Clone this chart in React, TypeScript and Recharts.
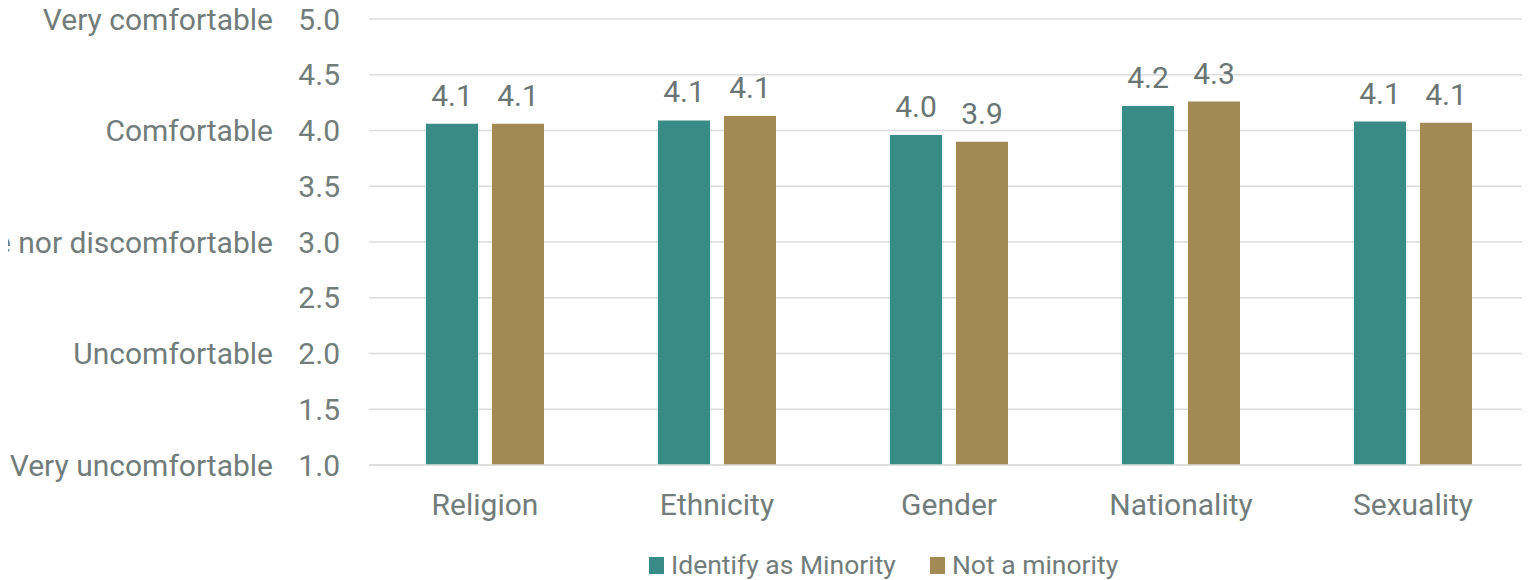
import React from 'react';
import { BarChart, Bar, XAxis, YAxis, CartesianGrid, Legend, LabelList } from 'recharts';

const categories = ['Religion', 'Ethnicity', 'Gender', 'Nationality', 'Sexuality'];
const minority = [4.06, 4.09, 3.96, 4.22, 4.08];
const notMinority = [4.06, 4.13, 3.9, 4.26, 4.07];
const yTicks = [1, 1.5, 2, 2.5, 3, 3.5, 4, 4.5, 5];
const levelValues = [1, 2, 3, 4, 5];
const levelLabels = ['Very uncomfortable', 'Uncomfortable', 'Neither comfortable nor discomfortable', 'Comfortable', 'Very comfortable'];
const seriesNames = ['Identify as Minority', 'Not a minority'];
const seriesColors = ['#388B87', '#A38A55'];

const data = categories.map((c, i) => ({ category: c, minority: minority[i], notMinority: notMinority[i] }));

const FONT = 'Roboto, sans-serif';
const TEXT = '#717C7B';
const FS = 30;

const YTick = (props: any) => {
  const { x, y, payload } = props;
  const v = payload.value as number;
  const idx = levelValues.indexOf(v);
  return (
    <g>
      <text x={x} y={y} dy="0.35em" textAnchor="end" fontFamily={FONT} fontSize={FS} fill={TEXT}>
        {v.toFixed(1)}
      </text>
      {idx >= 0 && (
        <text x={x - 67} y={y} dy="0.35em" textAnchor="end" fontFamily={FONT} fontSize={FS} fill={TEXT}>
          {levelLabels[idx]}
        </text>
      )}
    </g>
  );
};

const XTick = (props: any) => {
  const { x, y, payload } = props;
  return (
    <text x={x} y={y} dy="0.71em" textAnchor="middle" fontFamily={FONT} fontSize={FS} fill={TEXT}>
      {payload.value}
    </text>
  );
};

const LegendContent = () => (
  <div style={{ height: 55, position: 'relative', fontFamily: FONT, fontSize: 26.5, color: TEXT }}>
    <div style={{ position: 'absolute', left: 641, top: 27, display: 'flex', alignItems: 'center', lineHeight: 1 }}>
      {seriesNames.map((n, i) => (
        <div key={n} style={{ display: 'flex', alignItems: 'center', marginRight: 34 }}>
          <div style={{ width: 15, height: 17, background: seriesColors[i], marginRight: 7 }} />
          <span>{n}</span>
        </div>
      ))}
    </div>
  </div>
);

const fmt = (v: any) => Number(v).toFixed(1);

export default function App() {
  return (
    <BarChart
      width={1522}
      height={572}
      data={data}
      margin={{ top: 11, right: 1, bottom: 0, left: 0 }}
      barGap={14}
      barSize={52}
    >
      <CartesianGrid vertical={false} stroke="#DCDCDC" strokeWidth={1.5} />
      <XAxis
        dataKey="category"
        tick={<XTick />}
        tickLine={false}
        axisLine={{ stroke: '#DCDCDC', strokeWidth: 1.5 }}
        height={60}
        tickSize={0}
        tickMargin={29}
        interval={0}
      />
      <YAxis
        domain={[1, 5]}
        ticks={yTicks}
        tick={<YTick />}
        tickLine={false}
        axisLine={false}
        width={361}
        tickSize={0}
        tickMargin={29}
        interval={0}
      />
      <Legend verticalAlign="bottom" content={<LegendContent />} wrapperStyle={{ left: 0, width: 1522 }} />
      <Bar dataKey="minority" name={seriesNames[0]} fill={seriesColors[0]} isAnimationActive={false}>
        <LabelList dataKey="minority" position="top" offset={18} formatter={fmt} fontFamily={FONT} fontSize={FS} fill="#6A7574" />
      </Bar>
      <Bar dataKey="notMinority" name={seriesNames[1]} fill={seriesColors[1]} isAnimationActive={false}>
        <LabelList dataKey="notMinority" position="top" offset={18} formatter={fmt} fontFamily={FONT} fontSize={FS} fill="#6A7574" />
      </Bar>
    </BarChart>
  );
}
